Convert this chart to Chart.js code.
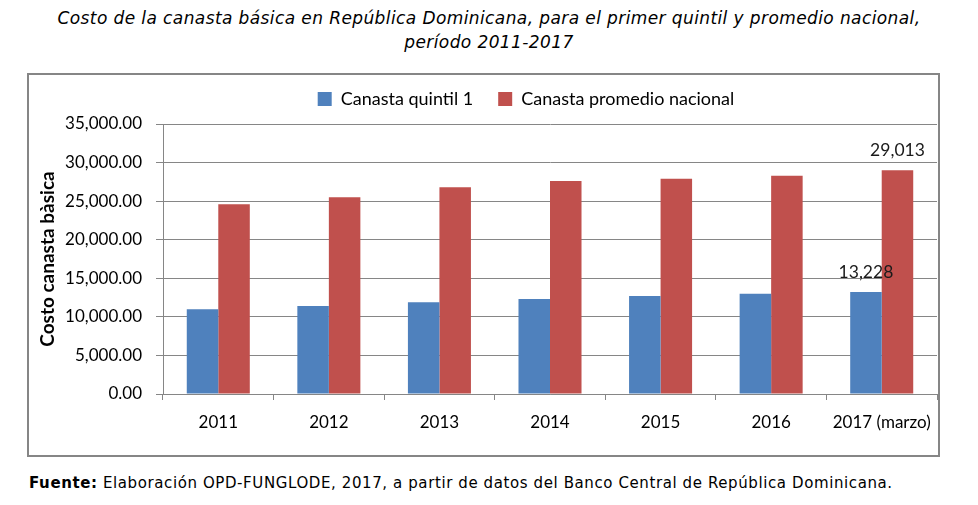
<!DOCTYPE html>
<html>
<head>
<meta charset="utf-8">
<script src="https://cdn.jsdelivr.net/npm/chart.js@4/dist/chart.umd.min.js"></script>
<style>
    html, body { margin: 0; padding: 0; background: #fff; }
    body { width: 978px; height: 505px; position: relative; overflow: hidden; }
    #title {
        position: absolute; left: 0; top: 6px; width: 978px;
        text-align: center; font-family: 'DejaVu Sans', sans-serif; font-style: italic;
        font-size: 17px; letter-spacing: 0.4px; line-height: 24px; color: #000;
    }
    #frame {
        position: absolute; left: 27px; top: 73px; width: 909px; height: 380px;
        border: 2px solid #868686;
    }
    #source {
        position: absolute; left: 29px; top: 474px;
        font-family: 'DejaVu Sans', sans-serif; font-size: 15px; letter-spacing: 0.6px; color: #000;
    }
</style>
</head>
<body>
<div id="title">Costo de la canasta básica en República Dominicana, para el primer quintil y promedio nacional,<br>período 2011-2017</div>
<div id="frame"><canvas id="__chart_canasta"></canvas></div>
<div id="source"><b>Fuente:</b> Elaboración OPD-FUNGLODE, 2017, a partir de datos del Banco Central de República Dominicana.</div>
<script>

const years = [ '2011', '2012', '2013', '2014', '2015', '2016', '2017 (marzo)' ];
const canastaQuintil = [ 11000, 11400, 11900, 12300, 12700, 13000, 13228 ];
const canastaPromedio = [ 24600, 25500, 26800, 27600, 27900, 28300, 29013 ];
const yTicks = [ 0, 5000, 10000, 15000, 20000, 25000, 30000, 35000 ];
const labelledIndex = 6;   // only 2017 carries value labels

document.addEventListener( 'DOMContentLoaded', function () {

    let canvas = document.getElementById( '__chart_canasta' );
    let ctx = canvas.getContext( '2d' );

    const grey = '#868686';
    const font = 'Lato, sans-serif';

    /**
     * nudge legend box and draw the 2017 value labels
     */

    const tweaks = {
        id: 'tweaks',
        beforeLayout: ( chart ) => {
            let legend = chart.legend;
            if( legend && !legend._patched ) {
                let fit = legend.fit;
                legend.fit = function () {
                    fit.call( this );
                    this.height = 49;
                };
                legend._patched = true;
            }
        },
        afterLayout: ( chart ) => {
            let legend = chart.legend;
            legend.left += 43; legend.right += 43;
            legend.top -= 10; legend.bottom -= 10;
        },
        afterDatasetsDraw: ( chart ) => {
            let c = chart.ctx;
            c.save();
            c.font = '17.5px ' + font;
            c.fillStyle = '#1a1a1a';
            c.textAlign = 'center';
            c.textBaseline = 'middle';
            chart.data.datasets.forEach( ( ds, i ) => {
                let bar = chart.getDatasetMeta( i ).data[ labelledIndex ];
                let v = ds.data[ labelledIndex ];
                c.fillText( v.toLocaleString( 'en-US' ), bar.x, bar.y - 20 );
            } );
            c.restore();
        }
    };

    new Chart( ctx, {
        type: 'bar',
        data: {
            labels: years,
            datasets: [ {
                label: 'Canasta quintil 1',
                data: canastaQuintil,
                backgroundColor: '#4F81BD'
            }, {
                label: 'Canasta promedio nacional',
                data: canastaPromedio,
                backgroundColor: '#C0504D'
            } ]
        },
        options: {
            responsive: true,
            maintainAspectRatio: false,
            animation: false,
            devicePixelRatio: 1,
            layout: {
                padding: { top: 0, right: 1, bottom: 0, left: 0 }
            },
            datasets: {
                bar: {
                    categoryPercentage: 0.57,
                    barPercentage: 1.0
                }
            },
            plugins: {
                legend: {
                    position: 'top',
                    labels: {
                        boxWidth: 14,
                        boxHeight: 14,
                        padding: 25,
                        color: '#000',
                        font: { family: font, size: 18 }
                    }
                },
                tooltip: { enabled: false }
            },
            scales: {
                x: {
                    border: { display: true, color: grey, width: 1 },
                    grid: {
                        drawOnChartArea: false,
                        drawTicks: true,
                        tickLength: 6,
                        color: grey
                    },
                    ticks: {
                        padding: 12,
                        color: '#000',
                        maxRotation: 0,
                        font: { family: font, size: 17 }
                    },
                    afterFit: ( scale ) => {
                        scale.height = 61;
                        scale.paddingLeft = 0;
                        scale.paddingRight = 0;
                    }
                },
                y: {
                    min: 0,
                    max: 35000,
                    border: { display: true, color: grey, width: 1 },
                    grid: {
                        color: grey,
                        lineWidth: 1,
                        tickLength: 7
                    },
                    title: {
                        display: true,
                        text: 'Costo canasta bàsica',
                        color: '#000',
                        padding: { top: 7, bottom: 0 },
                        font: { family: font, size: 19, weight: 'bold' }
                    },
                    afterBuildTicks: ( scale ) => {
                        scale.ticks = yTicks.map( v => ( { value: v } ) );
                    },
                    ticks: {
                        padding: 14,
                        color: '#000',
                        font: { family: font, size: 17 },
                        callback: ( value ) => {
                            return Number( value ).toLocaleString( 'en-US', { minimumFractionDigits: 2, maximumFractionDigits: 2 } );
                        }
                    },
                    afterFit: ( scale ) => { scale.width = 134; }
                }
            }
        },
        plugins: [ tweaks ]
    } );

} );

</script>
</body>
</html>
